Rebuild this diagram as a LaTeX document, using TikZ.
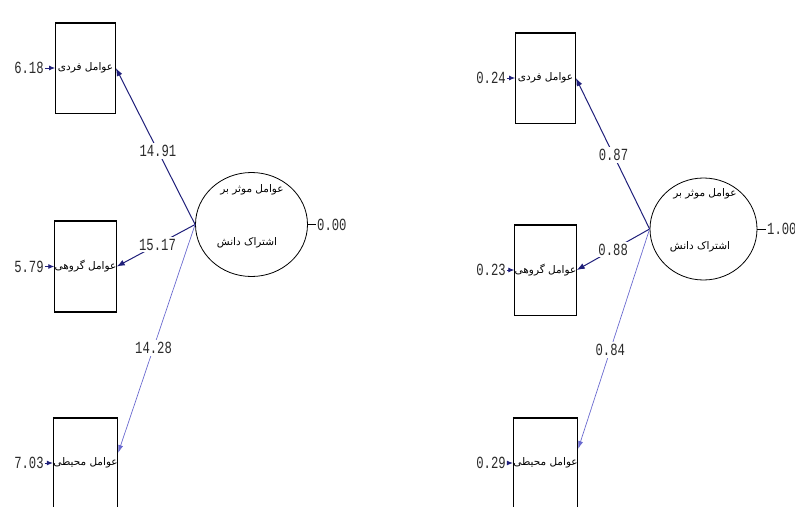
\documentclass[tikz,border=0pt]{standalone}
\usepackage{fontspec}
\setmainfont{DejaVu Sans}
\newfontfamily\fa[Script=Arabic]{DejaVu Sans}
\newfontfamily\numfont[FakeStretch=0.72]{Liberation Mono}
\TeXXeTstate=1
\usetikzlibrary{arrows.meta,shapes.geometric}
\definecolor{pathdark}{HTML}{1F1F7A}
\definecolor{pathlight}{HTML}{6A6ACF}
\definecolor{numcol}{HTML}{2A2A2A}
\begin{document}
\begin{tikzpicture}[x=1pt,y=-1pt,
  obs/.style={draw, line width=0.8pt, minimum width=60pt, minimum height=90pt, inner sep=0pt,
    font=\fa\fontsize{10.5}{12}\selectfont},
  lat/.style={draw, ellipse, line width=0.8pt, minimum width=112pt, minimum height=104pt, inner sep=0pt},
  lattext/.style={font=\fa\fontsize{10.5}{12}\selectfont, inner sep=0pt},
  num/.style={font=\numfont\fontsize{17}{17}\selectfont, text=numcol, inner sep=1pt},
  elbl/.style={num, fill=white, inner sep=2pt},
  pdark/.style={-{Latex[length=8pt,width=6pt]}, pathdark, line width=1pt},
  plight/.style={-{Latex[length=8pt,width=5pt]}, pathlight, line width=0.7pt},
  err/.style={-{Latex[length=6pt,width=5pt]}, pathdark, line width=0.9pt},
  edge/.style={line width=1.8pt}
]
\useasboundingbox (0,0) rectangle (795,506);

% ---------- left panel ----------
\node[obs] (lb1) at (85.5,68) {\beginR عوامل فردی\endR};
\node[obs] (lb2) at (85.5,266.5) {\beginR عوامل گروهی\endR};
\node[obs] (lb3) at (85.5,463) {\beginR عوامل محیطی\endR};
\foreach \b in {lb1,lb2,lb3}{
  \draw[edge] (\b.north west) -- (\b.north east);
  \draw[edge] (\b.south west) -- (\b.south east);
}
\node[lat] (lL) at (251.5,224.5) {};
\node[lattext] (lLt1) at (252,190) {\beginR عوامل موثر بر\endR};
\node[lattext] (lLt2) at (247,243) {\beginR اشتراک دانش\endR};

\node[num] (le1) at (29,68) {6.18};
\node[num] (le2) at (29,266.5) {5.79};
\node[num] (le3) at (29,463) {7.03};
\draw[err] (le1) -- (lb1);
\draw[err] (le2) -- (lb2);
\draw[err] (le3) -- (lb3);

\draw[pdark] (lL.west) -- node[elbl, pos=0.47] (ll1) {14.91} (lb1.east);
\draw[pdark] (lL.west) -- node[elbl, pos=0.48] (ll2) {15.17} (lb2.east);
\draw[plight] (lL.west) -- node[elbl, pos=0.54] (ll3) {14.28} ([yshift=10pt]lb3.east);

\node[num, anchor=west] (lv) at (316,224.5) {0.00};
\draw[line width=0.6pt] (lL.east) -- (lv.west);

% ---------- right panel ----------
\node[obs] (rb1) at (545.5,78) {\beginR عوامل فردی\endR};
\node[obs] (rb2) at (545.5,270) {\beginR عوامل گروهی\endR};
\node[obs] (rb3) at (545.5,463) {\beginR عوامل محیطی\endR};
\foreach \b in {rb1,rb2,rb3}{
  \draw[edge] (\b.north west) -- (\b.north east);
  \draw[edge] (\b.south west) -- (\b.south east);
}
\node[lat, minimum width=107pt, minimum height=102pt] (rL) at (703.5,229) {};
\node[lattext] (rLt1) at (705,194) {\beginR عوامل موثر بر\endR};
\node[lattext] (rLt2) at (700,247) {\beginR اشتراک دانش\endR};

\node[num] (re1) at (491,78) {0.24};
\node[num] (re2) at (491,270) {0.23};
\node[num] (re3) at (491,463) {0.29};
\draw[err] (re1) -- (rb1);
\draw[err] (re2) -- (rb2);
\draw[err] (re3) -- (rb3);

\draw[pdark] (rL.west) -- node[elbl, pos=0.49] (rl1) {0.87} (rb1.east);
\draw[pdark] (rL.west) -- node[elbl, pos=0.5] (rl2) {0.88} (rb2.east);
\draw[plight] (rL.west) -- node[elbl, pos=0.55] (rl3) {0.84} ([yshift=14pt]rb3.east);

\node[num, anchor=west] (rv) at (766,229) {1.00};
\draw[line width=0.6pt] (rL.east) -- (rv.west);
\end{tikzpicture}
\end{document}
